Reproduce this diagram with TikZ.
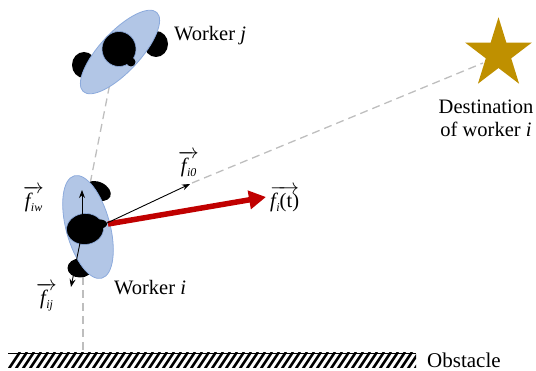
\documentclass[tikz,border=0pt]{standalone}
\usepackage{amsmath}
\usepackage{fontspec}
\setmainfont{Liberation Serif}
\usetikzlibrary{arrows.meta,shapes.geometric}
\definecolor{bodyblue}{RGB}{178,198,230}
\definecolor{edgeblue}{RGB}{140,170,220}
\definecolor{stargold}{RGB}{191,144,0}
\definecolor{forcered}{RGB}{192,0,0}
\definecolor{dashgray}{RGB}{190,190,190}
\newcommand{\fvec}[1]{$\overrightarrow{\mbox{\itshape f\kern0.5pt\raisebox{-3.5pt}{\fontsize{12}{12}\selectfont #1}}}$}
\tikzset{
  lbl/.style={inner sep=0pt,font=\fontsize{20.5}{23}\selectfont,align=center},
  torso/.style={ellipse,draw=edgeblue,line width=0.8pt,fill=bodyblue,inner sep=0pt},
  blob/.style={ellipse,fill=black,inner sep=0pt},
  dashline/.style={draw=dashgray,line width=1.3pt,dash pattern=on 8pt off 5pt},
  thinforce/.style={draw=black,line width=0.9pt,-{Stealth[length=8pt,width=6pt]}},
  bigforce/.style={draw=forcered,line width=5.5pt,-{Triangle[length=17pt,width=18pt]}}
}
\begin{document}
\begin{tikzpicture}[x=1pt,y=-1pt]
\useasboundingbox (0,0) rectangle (536,371);
% anchors
\coordinate (jdash) at (112,73);
\coordinate (idashtop) at (90,184);
\coordinate (idashlow) at (83,277);
\coordinate (obst) at (83,352);
\coordinate (destdash) at (483,63);
\coordinate (i0dash) at (192,183);
\coordinate (o) at (107,223);
% dashed guides
\draw[dashline] (jdash) -- (idashtop);
\draw[dashline] (i0dash) -- (destdash);
\draw[dashline] (idashlow) -- (obst);
% worker j
\node[blob,minimum width=24pt,minimum height=26pt] (jsr) at (156,44) {};
\node[blob,minimum width=24pt,minimum height=26pt] (jsl) at (84,65) {};
\node[torso,minimum width=108pt,minimum height=40pt,rotate=47] (jbody) at (120,52) {};
\node[blob,draw=edgeblue,line width=0.6pt,minimum width=34pt,minimum height=35pt] (jhead) at (119,49) {};
\node[blob,minimum width=9pt,minimum height=9pt] (jnose) at (131,62) {};
% worker i
\node[blob,minimum width=27pt,minimum height=18pt,rotate=-25] (ist) at (98,191) {};
\node[blob,minimum width=25pt,minimum height=19pt] (isb) at (80,268) {};
\node[torso,minimum width=106pt,minimum height=44pt,rotate=-75] (ibody) at (88,227) {};
\node[blob,draw=edgeblue,line width=0.6pt,minimum width=37pt,minimum height=31pt,rotate=5] (ihead) at (85,229) {};
\node[blob,minimum width=14pt,minimum height=9pt] (inose) at (100,224) {};
% star
\node[star,star points=5,star point ratio=2.62,fill=stargold,minimum size=70pt,inner sep=0pt,yscale=1.05,transform shape] (dest) at (498.5,54) {};
% forces
\coordinate (i0tip) at (190,184);
\coordinate (redtip) at (266,197);
\coordinate (iwfrom) at (82,215);
\coordinate (iwtip) at (82,190);
\coordinate (ijfrom) at (80,243);
\coordinate (ijtip) at (71,287);
\draw[bigforce] (o) ++(1,1) -- (redtip);
\draw[thinforce] (o) -- (i0tip);
\draw[thinforce] (iwfrom) -- (iwtip);
\draw[thinforce] (ijfrom) -- (ijtip);
% obstacle
\begin{scope}
\clip (8,353) rectangle (416,368);
\foreach \k in {0,...,60}{
  \draw[line width=2.6pt,black] ({8+7*\k},370) -- ({20+7*\k},352);
}
\end{scope}
\coordinate (oba) at (8,353);
\coordinate (obb) at (416,353);
\draw[black,line width=0.9pt] (oba) -- (obb);
% labels
\node[lbl,anchor=west] (wj) at (174,36) {Worker \textit{j}};
\node[lbl,anchor=west] (wi) at (114,288) {Worker \textit{i}};
\node[lbl] (dlabel) at (486,118) {Destination\\of worker \textit{i}};
\node[lbl,anchor=west,font=\fontsize{21}{23}\selectfont] (oblabel) at (427,360.5) {Obstacle};
\node[lbl,anchor=west] (fiw) at (23,199) {\fvec{iw}};
\node[lbl,anchor=west] (fij) at (36,297) {\fvec{ij}};
\node[lbl,anchor=west] (fi0) at (178,164) {\fvec{i0}};
\node[lbl,anchor=west] (fi) at (270,199) {$\overrightarrow{\mbox{\itshape f\kern0.5pt\raisebox{-3.5pt}{\fontsize{12}{12}\selectfont i}\upshape(t)}}$};
\end{tikzpicture}
\end{document}
